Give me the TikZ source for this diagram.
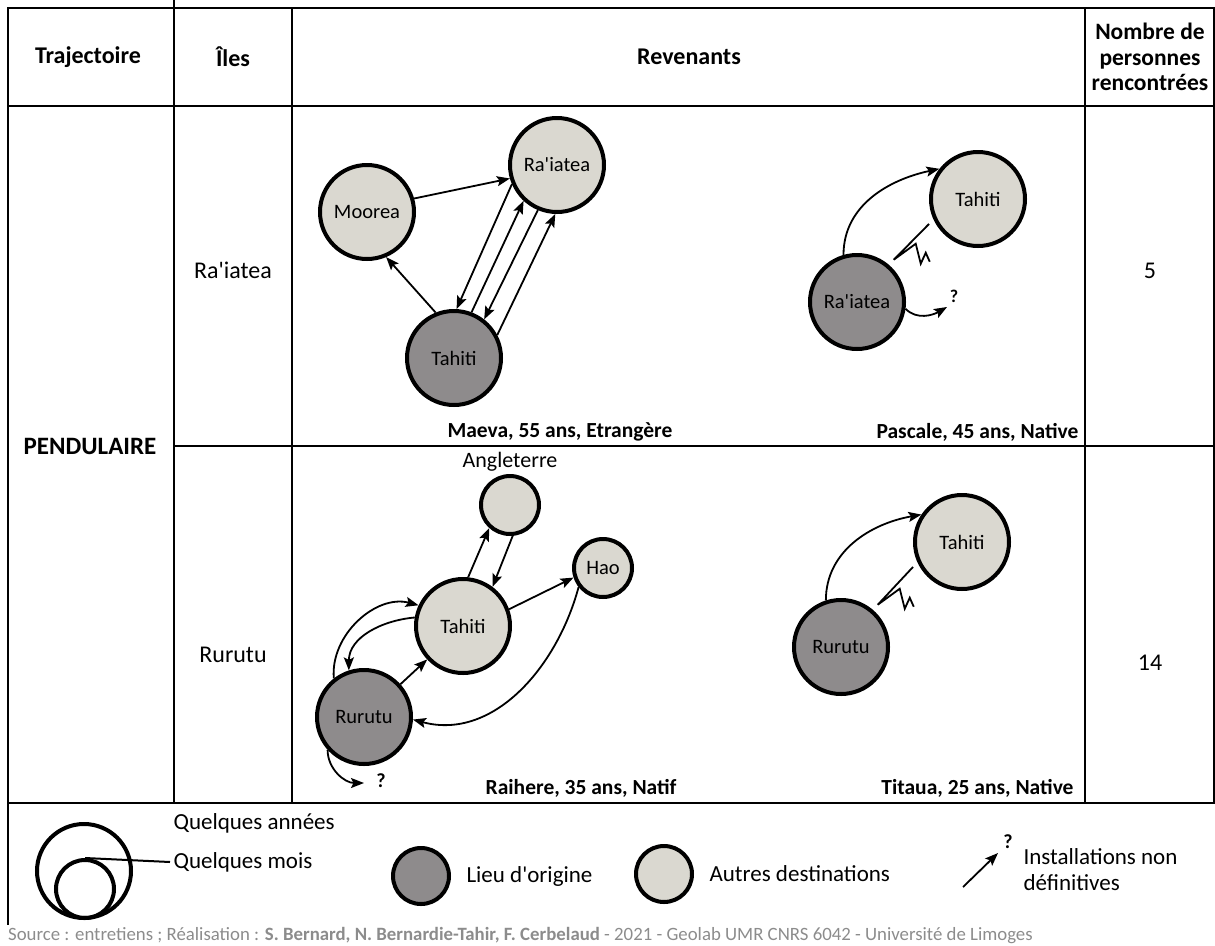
\documentclass[tikz,border=0pt]{standalone}
\usepackage{fontspec}
\setmainfont{Carlito}
\newfontfamily\rawfont{Carlito}
\usepackage{xcolor}
\usepackage{tikz}
\usetikzlibrary{arrows.meta,positioning}

\definecolor{origfill}{RGB}{142,139,140}
\definecolor{destfill}{RGB}{218,216,208}
\definecolor{srcgray}{RGB}{140,140,140}
\newcommand{\apos}{{\rawfont'}}

\begin{document}
\begin{tikzpicture}[
  x=1pt, y=1pt,
  isle/.style={circle, draw, line width=4pt, inner sep=0pt, minimum size=94pt, on grid, font=\fontsize{20.5}{24}\selectfont},
  orig/.style={isle, fill=origfill},
  dest/.style={isle, fill=destfill},
  small/.style={minimum size=58pt},
  head/.style={font=\fontsize{24}{25.5}\selectfont\bfseries, align=center},
  cell/.style={font=\fontsize{24}{28}\selectfont},
  who/.style={font=\fontsize{21.5}{25}\selectfont\bfseries},
  lgd/.style={font=\fontsize{23}{26}\selectfont, align=left},
  quest/.style={font=\fontsize{18}{20}\selectfont\bfseries, inner sep=1pt},
  arrow/.style={-{Stealth[length=13pt, width=10pt, inset=2.5pt]}, line width=1.8pt},
  zz/.style={line width=1.8pt, line join=miter},
  rule/.style={line width=2pt}
]
\useasboundingbox (0,0) rectangle (1215,-945);

% table frame
\draw[rule] (7.5,-8) rectangle (1214,-803);
\draw[rule] (7.5,-106) -- (1214,-106);
\draw[rule] (174,-446) -- (1214,-446);
\draw[rule] (174,0) -- (174,-803);
\foreach \x in {292,1085}
  \draw[rule] (\x,-8) -- (\x,-803);
\draw[rule] (7.5,-803) -- (7.5,-925);

% headers and cells
\node[head] (h-traj) at (88,-57) {Trajectoire};
\node[head] (h-iles) at (233,-57) {Îles};
\node[head] (h-rev) at (689,-57) {Revenants};
\node[head, font=\fontsize{23.5}{25.5}\selectfont\bfseries] (h-nb) at (1150,-57) {Nombre de\\personnes\\rencontrées};
\node[head, font=\fontsize{25}{28}\selectfont\bfseries] (c-pend) at (90,-446) {PENDULAIRE};
\node[cell] (c-raiatea) at (233,-270) {Ra\apos iatea};
\node[cell] (c-rurutu) at (233,-655) {Rurutu};
\node[cell] (c-n1) at (1150,-271) {5};
\node[cell] (c-n2) at (1150,-663) {14};

% Maeva
\node[orig] (ma-tahiti) at (454,-358) {Tahiti};
\node[dest, above left=146pt and 87pt of ma-tahiti] (ma-moorea) {Moorea};
\node[dest, above right=193pt and 103pt of ma-tahiti] (ma-raiatea) {Ra\apos iatea};
\draw[arrow] (ma-moorea.16) -- (ma-raiatea.196);
\draw[arrow] (ma-tahiti.112) -- (ma-moorea.-67);
\draw[arrow] (ma-raiatea.203) -- (ma-tahiti.87);
\draw[arrow] (ma-tahiti.69) -- (ma-raiatea.227);
\draw[arrow] (ma-raiatea.247) -- (ma-tahiti.52);
\draw[arrow] (ma-tahiti.28) -- (ma-raiatea.268);
\node[who, anchor=west] (ma-who) at (444,-432) {Maeva, 55 ans, Etrangère};

% Pascale
\node[orig] (pa-raiatea) at (857,-302) {Ra\apos iatea};
\node[dest, above right=103pt and 121pt of pa-raiatea] (pa-tahiti) {Tahiti};
\draw[arrow] (pa-raiatea.106) to[out=90, in=192] (pa-tahiti.142);
\draw[zz] ([shift={(207:6)}]pa-tahiti.207) -- ([shift={(49:7)}]pa-raiatea.49)
  -- ++(22,16) -- ++(5,-20) -- ++(5,11) -- ++(4,-9);
\coordinate (pa-qend) at (947,-307);
\draw[arrow] (pa-raiatea.-8) to[out=-45, in=210] (pa-qend);
\node[quest] (pa-q) at (954,-296) {?};
\node[who, anchor=east] (pa-who) at (1082,-432) {Pascale, 45 ans, Native};

% Raihere
\node[orig] (ra-rurutu) at (364,-717) {Rurutu};
\node[dest, above right=91pt and 99pt of ra-rurutu] (ra-tahiti) {Tahiti};
\node[dest, small, above right=121pt and 47pt of ra-tahiti] (ra-angl) {};
\node[dest, small, above right=58pt and 140pt of ra-tahiti] (ra-hao) {Hao};
\node[above=-1pt of ra-angl, font=\fontsize{22}{25}\selectfont] (ra-angl-lbl) {Angleterre};
\draw[arrow] (ra-tahiti.84) -- (ra-angl.228);
\draw[arrow] (ra-angl.-85) -- (ra-tahiti.53);
\draw[arrow] (ra-tahiti.20) -- (ra-hao.198);
\draw[arrow] (ra-rurutu.42) -- (ra-tahiti.223);
\draw[arrow] (ra-rurutu.128) to[out=95, in=165] (ra-tahiti.155);
\draw[arrow] (ra-tahiti.170) to[out=185, in=90] (ra-rurutu.108);
\draw[arrow] (ra-hao.218) to[out=-105, in=-15] (ra-rurutu.-3);
\coordinate (ra-qend) at (364,-783);
\draw[arrow] (ra-rurutu.222) to[out=-90, in=180] (ra-qend);
\node[quest, font=\fontsize{20}{22}\selectfont\bfseries] (ra-q) at (381,-781) {?};
\node[who, anchor=east] (ra-who) at (680,-788) {Raihere, 35 ans, Natif};

% Titaua
\node[orig] (ti-rurutu) at (841,-647) {Rurutu};
\node[dest, above right=105pt and 121pt of ti-rurutu] (ti-tahiti) {Tahiti};
\draw[arrow] (ti-rurutu.108) to[out=90, in=190] (ti-tahiti.146);
\draw[zz] ([shift={(207:6)}]ti-tahiti.207) -- ([shift={(49:7)}]ti-rurutu.49)
  -- ++(22,16) -- ++(5,-20) -- ++(5,11) -- ++(4,-9);
\node[who, anchor=east] (ti-who) at (1077,-788) {Titaua, 25 ans, Native};

% legend
\node[circle, draw, line width=4pt, minimum size=94pt, inner sep=0pt] (lg-years) at (84,-871) {};
\node[circle, draw, line width=4pt, minimum size=58pt, inner sep=0pt] (lg-months) at (85,-889) {};
\node[lgd, anchor=west] (lg-years-lbl) at (170,-823) {Quelques années};
\node[lgd, anchor=west] (lg-months-lbl) at (170,-862) {Quelques mois};
\draw[line width=2pt] (lg-months.north) -- (lg-months-lbl.west);
\node[orig, minimum size=56pt] (lg-orig) at (421,-876) {};
\node[lgd, right=12pt of lg-orig] (lg-orig-lbl) {Lieu d\apos origine};
\node[dest, minimum size=56pt] (lg-dest) at (664,-874) {};
\node[lgd, right=12pt of lg-dest] (lg-dest-lbl) {Autres destinations};
\coordinate (lg-a0) at (963,-887);
\coordinate (lg-a1) at (998,-853);
\draw[arrow] (lg-a0) -- (lg-a1);
\node[quest, font=\fontsize{20}{22}\selectfont\bfseries] (lg-q) at (1008,-842) {?};
\node[lgd, anchor=west] (lg-inst) at (1020,-870) {Installations non\\définitives};

% source
\node[anchor=west, inner sep=0pt, text=srcgray, font=\fontsize{18.8}{21}\selectfont] (src) at (8,-936)
  {Source : entretiens ; Réalisation : \textbf{S. Bernard, N. Bernardie-Tahir, F. Cerbelaud} - 2021 - Geolab UMR CNRS 6042 - Université de Limoges};
\end{tikzpicture}
\end{document}
